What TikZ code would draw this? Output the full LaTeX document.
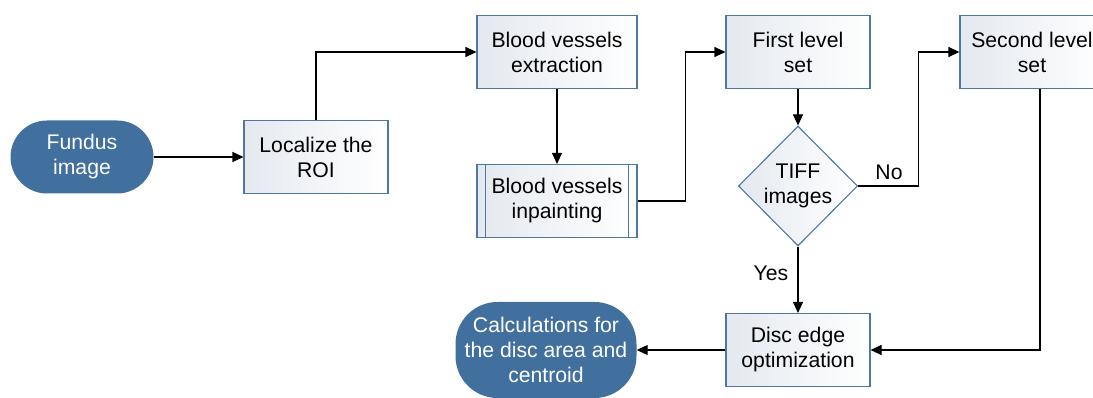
\documentclass[tikz,border=0pt]{standalone}
\usepackage{fontspec}
\setmainfont{Liberation Sans}
\usetikzlibrary{shapes.geometric,arrows.meta,calc}
\definecolor{stad}{HTML}{41709E}
\definecolor{bord}{HTML}{4F77A0}
\definecolor{boxl}{HTML}{E4E9F0}
\begin{document}
\begin{tikzpicture}[x=1pt,y=-1pt,
  txt/.style={font=\fontsize{21.2}{25}\selectfont,align=center},
  box/.style={txt,draw=bord,line width=1.1pt,shading=axis,shading angle=135,left color=boxl,right color=white,minimum width=144pt,minimum height=73pt,inner sep=0pt},
  wbox/.style={box,minimum width=160pt},
  stadium/.style={txt,fill=stad,text=white,inner sep=0pt},
  dec/.style={txt,diamond,draw=bord,line width=1.1pt,left color=boxl,right color=white,minimum width=119pt,minimum height=120pt,inner sep=0pt},
  conn/.style={line width=1.1pt,-{Triangle[length=11pt,width=10pt]}},
  line/.style={line width=1.1pt}]
\useasboundingbox (0,0) rectangle (1093,398);
\node[stadium,minimum width=143pt,minimum height=73pt,rounded corners=36.5pt] (fund) at (82,157) {Fundus\\image};
\node[box] (roi) at (316,157) {Localize the\\ROI};
\node[wbox] (ext) at (557,52) {Blood vessels\\extraction};
\node[wbox] (inp) at (557,201) {Blood vessels\\inpainting};
\draw[bord,line width=1.1pt] ($(inp.north west)+(9,0)$) -- ($(inp.south west)+(9,0)$);
\draw[bord,line width=1.1pt] ($(inp.north east)+(-9,0)$) -- ($(inp.south east)+(-9,0)$);
\node[box] (fls) at (798,52) {First level\\set};
\node[dec] (tiff) at (798,186) {TIFF\\images};
\node[box] (sls) at (1032,52) {Second level\\set};
\node[box] (disc) at (798,350) {Disc edge\\optimization};
\node[stadium,minimum width=181pt,minimum height=96pt,rounded corners=42pt] (calc) at (546,350) {Calculations for\\the disc area and\\centroid};
\draw[conn] (fund) -- (roi);
\draw[conn] (roi.north) |- (ext.west);
\draw[conn] (ext) -- (inp);
\draw[conn] (inp.east) -- ++(48,0) |- (fls.west);
\draw[conn] (fls) -- (tiff);
\draw[conn] (tiff.east) -- ++(60,0) |- (sls.west);
\draw[conn] (tiff) -- (disc);
\draw[conn] ([xshift=8pt]sls.south) |- (disc.east);
\draw[conn] (disc) -- (calc);
\node[txt] (no) at (889,172) {No};
\node[txt] (yes) at (771,273) {Yes};
\end{tikzpicture}
\end{document}
